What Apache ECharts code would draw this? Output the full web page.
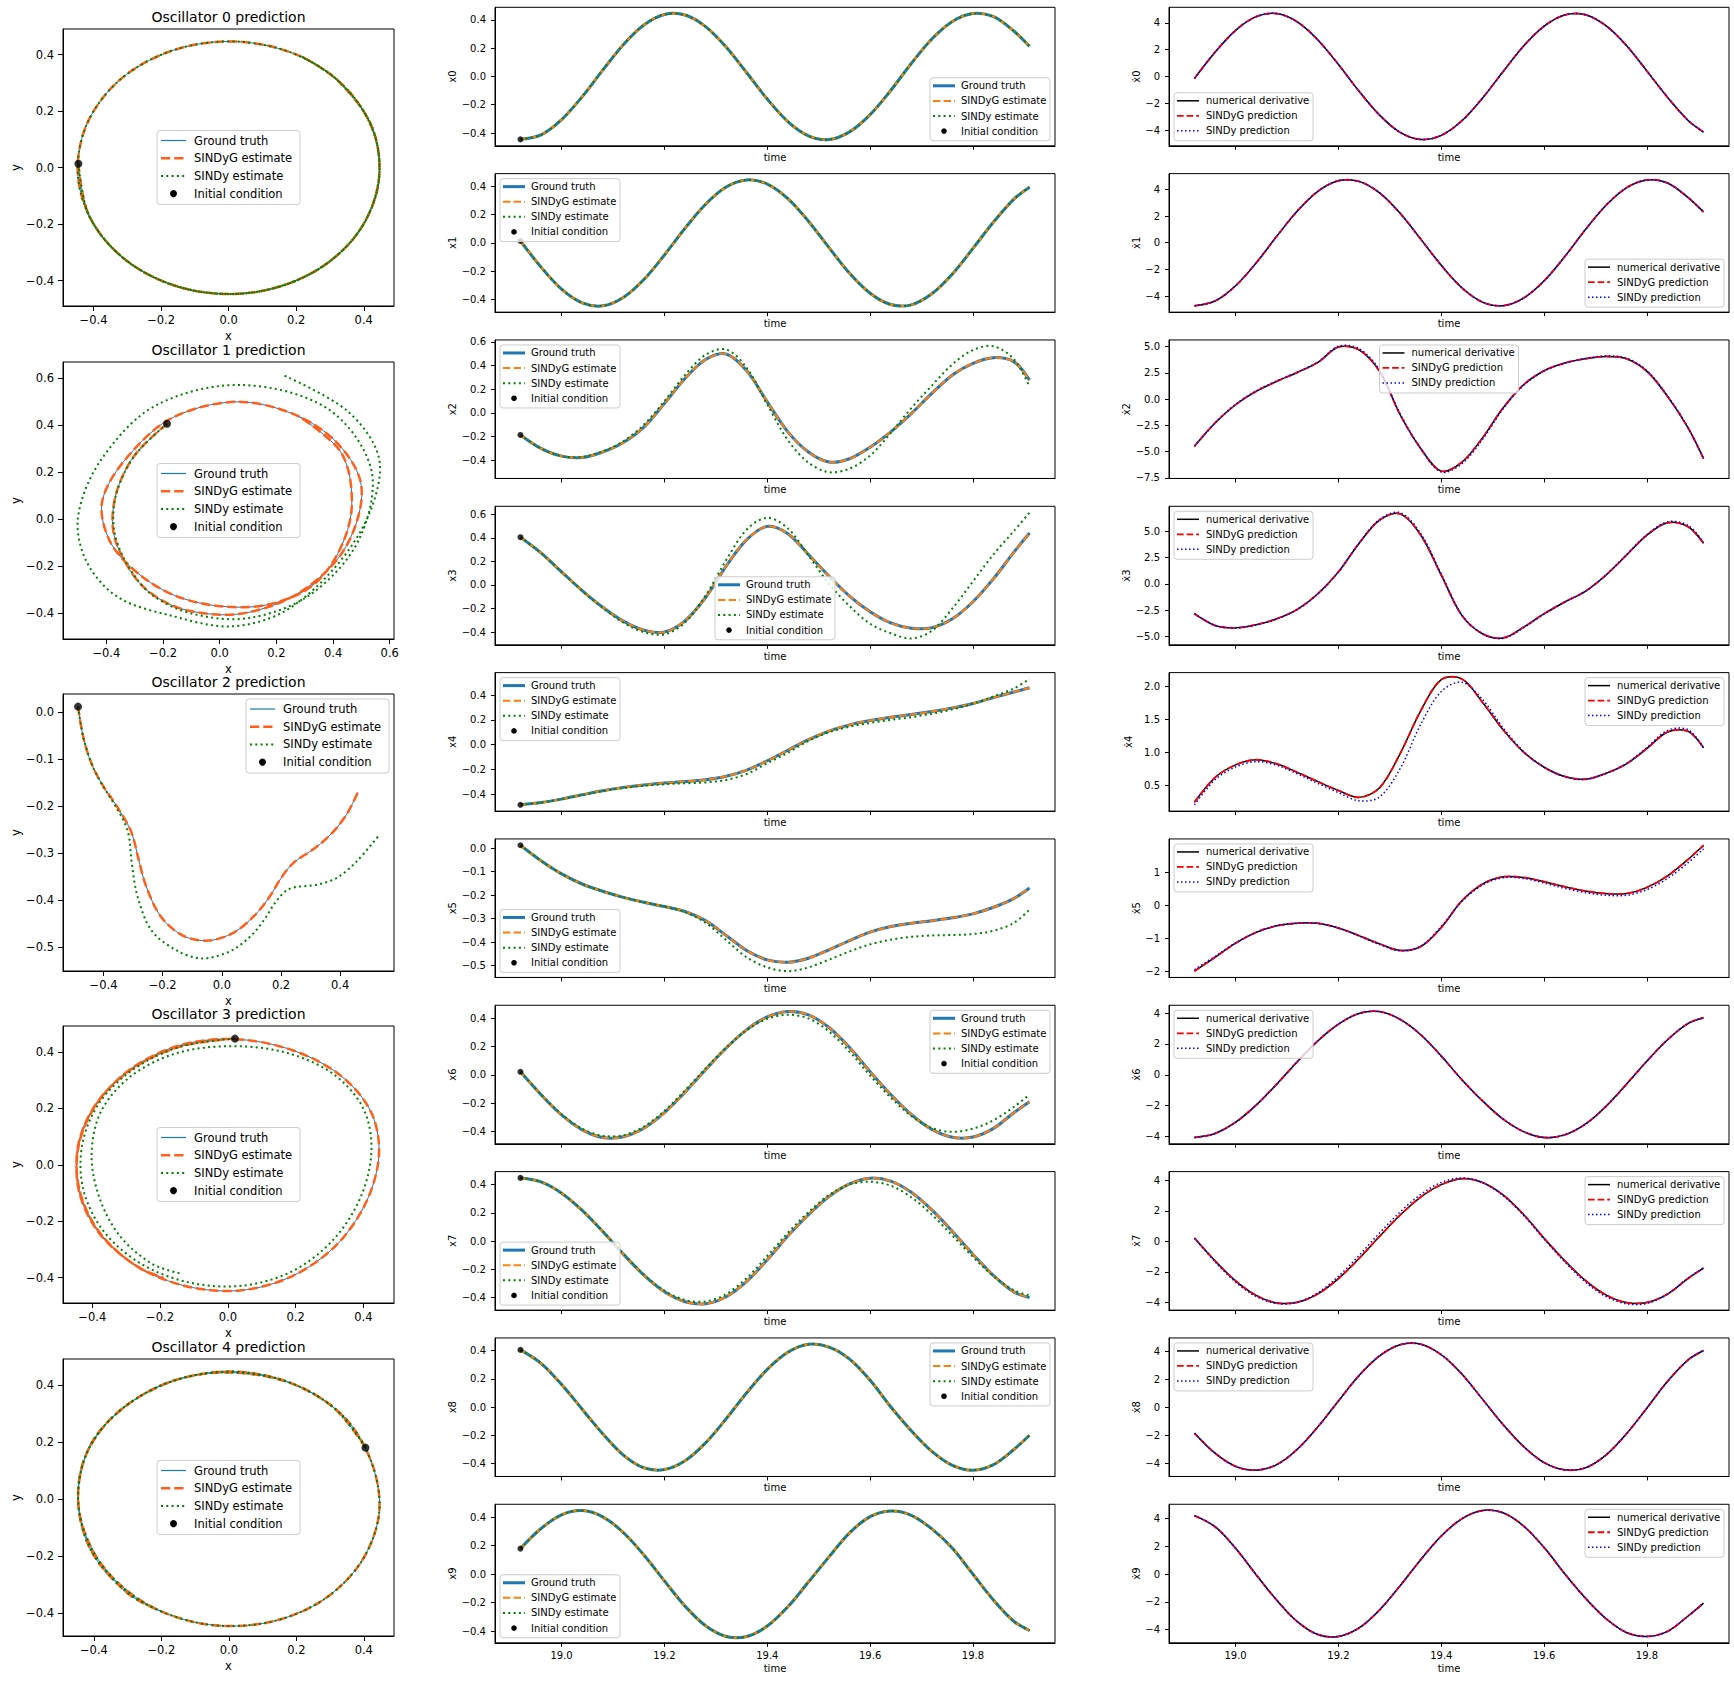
<!DOCTYPE html>
<html><head><meta charset="utf-8">
<script src="https://cdn.jsdelivr.net/npm/echarts@6/dist/echarts.min.js"></script>
<style>html,body{margin:0;padding:0;background:#fff;}#c{width:1734px;height:1681px;}</style>
</head><body><div id="c"></div>
<script>
// ---------- data ----------
const T = [18.92,18.96,19.00,19.04,19.08,19.12,19.16,19.20,19.24,19.28,19.32,19.36,19.40,19.44,19.48,19.52,19.56,19.60,19.64,19.68,19.72,19.76,19.80,19.84,19.88,19.91];

const x0 = [-0.445,-0.413,-0.305,-0.143,0.045,0.225,0.364,0.439,0.435,0.353,0.208,0.026,-0.160,-0.319,-0.420,-0.446,-0.392,-0.270,-0.099,0.092,0.265,0.389,0.445,0.423,0.320,0.213];
const x1 = [0.014,-0.171,-0.327,-0.424,-0.445,-0.386,-0.259,-0.085,0.104,0.274,0.396,0.446,0.417,0.314,0.154,-0.033,-0.215,-0.356,-0.436,-0.438,-0.360,-0.220,-0.038,0.148,0.312,0.395];
const x2 = [-0.186,-0.300,-0.365,-0.376,-0.330,-0.250,-0.120,0.080,0.290,0.450,0.497,0.355,0.093,-0.160,-0.330,-0.415,-0.387,-0.290,-0.160,-0.006,0.164,0.320,0.418,0.466,0.430,0.275];
const x2S = [-0.186,-0.300,-0.365,-0.372,-0.325,-0.240,-0.100,0.100,0.320,0.490,0.535,0.380,0.070,-0.230,-0.420,-0.500,-0.470,-0.360,-0.170,0.040,0.230,0.410,0.530,0.562,0.450,0.220];
const x3 = [0.405,0.272,0.111,-0.048,-0.190,-0.308,-0.385,-0.400,-0.305,-0.107,0.160,0.385,0.497,0.435,0.258,0.075,-0.095,-0.228,-0.323,-0.368,-0.364,-0.288,-0.143,0.053,0.280,0.440];
const x3S = [0.405,0.270,0.108,-0.050,-0.195,-0.320,-0.400,-0.420,-0.320,-0.090,0.210,0.470,0.570,0.480,0.250,0.010,-0.180,-0.330,-0.410,-0.455,-0.390,-0.200,0.030,0.260,0.460,0.614];
const x4 = [-0.486,-0.468,-0.440,-0.405,-0.372,-0.345,-0.325,-0.310,-0.298,-0.283,-0.255,-0.205,-0.130,-0.045,0.040,0.110,0.160,0.195,0.222,0.243,0.267,0.297,0.333,0.380,0.425,0.460];
const x4S = [-0.486,-0.468,-0.440,-0.406,-0.375,-0.350,-0.332,-0.320,-0.312,-0.305,-0.285,-0.237,-0.150,-0.065,0.030,0.100,0.145,0.175,0.200,0.222,0.250,0.285,0.330,0.390,0.455,0.531];
const x5 = [0.012,-0.054,-0.110,-0.153,-0.184,-0.210,-0.231,-0.249,-0.270,-0.309,-0.372,-0.436,-0.476,-0.486,-0.469,-0.433,-0.394,-0.358,-0.334,-0.320,-0.309,-0.297,-0.280,-0.252,-0.214,-0.170];
const x5S = [0.012,-0.054,-0.110,-0.153,-0.184,-0.210,-0.231,-0.249,-0.272,-0.318,-0.392,-0.465,-0.508,-0.524,-0.508,-0.475,-0.440,-0.410,-0.390,-0.378,-0.372,-0.370,-0.366,-0.352,-0.318,-0.262];
const x6 = [0.021,-0.140,-0.283,-0.388,-0.442,-0.437,-0.377,-0.267,-0.123,0.036,0.189,0.319,0.408,0.446,0.423,0.334,0.193,0.022,-0.139,-0.280,-0.385,-0.440,-0.439,-0.378,-0.266,-0.190];
const x6S = [0.021,-0.138,-0.278,-0.380,-0.430,-0.426,-0.365,-0.254,-0.110,0.045,0.192,0.314,0.395,0.424,0.398,0.306,0.163,-0.005,-0.160,-0.290,-0.375,-0.402,-0.380,-0.320,-0.225,-0.140];
const x7 = [0.447,0.419,0.339,0.217,0.067,-0.093,-0.242,-0.360,-0.430,-0.445,-0.395,-0.286,-0.133,0.035,0.186,0.315,0.405,0.445,0.424,0.345,0.220,0.068,-0.095,-0.245,-0.362,-0.400];
const x7S = [0.447,0.419,0.339,0.218,0.069,-0.090,-0.238,-0.352,-0.418,-0.428,-0.376,-0.262,-0.106,0.058,0.204,0.326,0.400,0.420,0.392,0.310,0.187,0.038,-0.113,-0.250,-0.350,-0.385];
const x8 = [0.405,0.310,0.160,-0.015,-0.190,-0.340,-0.430,-0.443,-0.381,-0.254,-0.083,0.101,0.267,0.388,0.445,0.425,0.340,0.190,0.002,-0.168,-0.314,-0.413,-0.447,-0.408,-0.299,-0.200];
const x9 = [0.180,0.321,0.417,0.447,0.403,0.293,0.135,-0.047,-0.224,-0.362,-0.437,-0.437,-0.364,-0.229,-0.055,0.122,0.290,0.404,0.444,0.414,0.318,0.183,0.000,-0.182,-0.332,-0.395];

const dx0 = [-0.15,1.81,3.45,4.47,4.70,4.08,2.73,0.90,-1.10,-2.89,-4.18,-4.71,-4.40,-3.31,-1.62,0.35,2.27,3.76,4.60,4.62,3.80,2.32,0.40,-1.56,-3.29,-4.15];
const dx1 = [-4.72,-4.36,-3.22,-1.51,0.48,2.37,3.85,4.64,4.59,3.73,2.20,0.27,-1.69,-3.37,-4.44,-4.71,-4.14,-2.85,-1.04,0.97,2.79,4.11,4.70,4.47,3.38,2.30];
const dx2 = [-4.49,-2.28,-0.54,0.73,1.68,2.53,3.48,4.95,4.68,2.63,-1.49,-4.70,-6.85,-6.00,-3.70,-0.85,1.36,2.69,3.42,3.83,4.05,3.83,2.63,0.25,-2.75,-5.67];
const dx2S = [-4.49,-2.28,-0.50,0.78,1.72,2.57,3.52,5.02,4.80,2.75,-1.40,-4.70,-6.95,-6.15,-3.85,-0.95,1.30,2.66,3.42,3.86,4.10,3.90,2.70,0.30,-2.72,-5.62];
const dx3 = [-2.84,-3.96,-4.18,-3.89,-3.32,-2.42,-0.93,1.15,3.86,6.09,6.68,4.66,0.83,-3.00,-4.75,-5.15,-4.12,-2.84,-1.72,-0.70,0.83,2.74,4.66,5.84,5.45,3.86];
const dx3S = [-2.84,-3.96,-4.20,-3.92,-3.35,-2.45,-0.95,1.15,3.88,6.15,6.80,4.80,0.95,-2.95,-4.75,-5.20,-4.18,-2.88,-1.74,-0.70,0.85,2.78,4.70,5.92,5.58,3.95];
const dx4 = [0.24,0.614,0.806,0.884,0.822,0.692,0.552,0.417,0.313,0.459,0.977,1.626,2.10,2.11,1.756,1.341,1.000,0.770,0.630,0.588,0.677,0.822,1.055,1.305,1.315,1.066];
const dx4S = [0.20,0.58,0.775,0.855,0.80,0.67,0.525,0.385,0.26,0.32,0.75,1.42,1.92,2.06,1.80,1.37,1.01,0.77,0.625,0.585,0.675,0.825,1.07,1.33,1.34,1.06];
const dx5 = [-2.00,-1.58,-1.15,-0.82,-0.62,-0.54,-0.545,-0.69,-0.92,-1.17,-1.37,-1.25,-0.67,0.14,0.65,0.87,0.85,0.72,0.57,0.44,0.36,0.36,0.55,0.90,1.40,1.83];
const dx5S = [-1.95,-1.55,-1.14,-0.82,-0.62,-0.54,-0.545,-0.69,-0.93,-1.19,-1.38,-1.24,-0.64,0.12,0.62,0.84,0.82,0.68,0.52,0.39,0.31,0.31,0.48,0.82,1.30,1.72];
const dx6 = [-4.07,-3.81,-3.08,-1.97,-0.61,0.85,2.20,3.28,3.98,4.10,3.59,2.60,1.21,-0.32,-1.69,-2.87,-3.69,-4.07,-3.90,-3.21,-2.06,-0.62,0.89,2.27,3.33,3.70];
const dx7 = [0.22,-1.27,-2.58,-3.53,-4.02,-3.98,-3.43,-2.43,-1.12,0.33,1.72,2.90,3.71,4.10,3.85,3.04,1.76,0.20,-1.26,-2.55,-3.50,-4.00,-3.99,-3.44,-2.42,-1.74];
const dx7S = [0.22,-1.33,-2.66,-3.60,-4.06,-3.98,-3.36,-2.28,-0.92,0.55,1.93,3.07,3.85,4.15,3.85,3.00,1.70,0.14,-1.34,-2.65,-3.60,-4.08,-4.05,-3.45,-2.40,-1.72];
const dx8 = [-1.85,-3.28,-4.22,-4.49,-4.10,-3.00,-1.40,0.45,2.26,3.67,4.47,4.50,3.75,2.37,0.58,-1.23,-2.80,-3.95,-4.47,-4.33,-3.42,-1.90,-0.05,1.85,3.38,4.05];
const dx9 = [4.20,3.40,1.85,-0.05,-1.88,-3.42,-4.35,-4.49,-3.88,-2.58,-0.84,1.03,2.73,3.97,4.56,4.40,3.45,1.90,0.02,-1.72,-3.20,-4.20,-4.49,-4.12,-3.02,-2.09];

// tick values
const timeTicks = [19.0,19.2,19.4,19.6,19.8];
const tk4 = [-0.4,-0.2,0,0.2,0.4];
const tk6 = [-0.4,-0.2,0,0.2,0.4,0.6];
const tk5n = [-0.5,-0.4,-0.3,-0.2,-0.1,0];
const d4 = [-4,-2,0,2,4];
const dTicks2 = [-7.5,-5,-2.5,0,2.5,5];
const dTicks3 = [-5,-2.5,0,2.5,5];
const dTicks4 = [0.5,1,1.5,2];
const dTicks5 = [-2,-1,0,1];

// text
const phaseTitles = ['Oscillator 0 prediction','Oscillator 1 prediction','Oscillator 2 prediction','Oscillator 3 prediction','Oscillator 4 prediction'];
const stateNames = ['x0','x1','x2','x3','x4','x5','x6','x7','x8','x9'];
const derivNames = stateNames.map(s => 'x\u0307' + s.slice(1));
const estLabels = ['Ground truth','SINDyG estimate','SINDy estimate','Initial condition'];
const derLabels = ['numerical derivative','SINDyG prediction','SINDy prediction'];

// ---------- layout / style ----------
const FONT = 'DejaVu Sans';
const X = [x0,x1,x2,x3,x4,x5,x6,x7,x8,x9];
const XS = [x0,x1,x2S,x3S,x4S,x5S,x6S,x7S,x8,x9];
const D = [dx0,dx1,dx2,dx3,dx4,dx5,dx6,dx7,dx8,dx9];
const DS = [dx0,dx1,dx2S,dx3S,dx4S,dx5S,dx6,dx7S,dx8,dx9];
const stateTicks = [tk4,tk4,tk6,tk6,tk4,tk5n,tk4,tk4,tk4,tk4];
const derivTicks = [d4,d4,dTicks2,dTicks3,dTicks4,dTicks5,d4,d4,d4,d4];
const derivDec = [0,0,1,1,1,0,0,0,0,0];
const phaseTicks = [[tk4,tk4],[tk6,tk6],[tk4,tk5n],[tk4,tk4],[tk4,tk4]];
const phaseLegendLoc = ['center','center','upper right','center','center'];
const stateLegendLoc = ['lower right','upper left','upper left','lower center','upper left','lower left','upper right','lower left','upper right','lower left'];
const derivLegendLoc = ['lower left','lower right','upper center','upper left','upper right','upper left','upper left','upper right','upper left','upper right'];

const C1 = {left:63, width:331, height:277, tops:[29,362,694,1026,1359]};
const C2 = {left:495, width:560};
const C3 = {left:1169, width:560};
const ROW0 = 7.3, ROWSTEP = 166.33, ROWH = 138.5;

const BLUE = '#1f77b4', ORANGE1 = '#ff5f1a', ORANGE2 = '#ff7f0e', GREEN = '#008000';

const grid = [], xAxis = [], yAxis = [], series = [], elements = [];

function fmt(d){ return v => { let a = Math.abs(v) < 1e-9 ? 0 : v; return (a < 0 ? '\u2212' : '') + Math.abs(a).toFixed(d); }; }
function padExt(arrs){
  let mn = Infinity, mx = -Infinity;
  arrs.forEach(a => a.forEach(v => { if (v < mn) mn = v; if (v > mx) mx = v; }));
  const r = mx - mn; return [mn - 0.05*r, mx + 0.05*r];
}

function axisCfg(idx, r, ticks, dec, showLabels, name, gap, fs, tl, margin, dim){
  return {
    type:'value', gridIndex:idx, min:r[0], max:r[1], position: dim === 'x' ? 'bottom' : 'left',
    axisLine:{show:true, onZero:false, lineStyle:{color:'#000', width:1}},
    axisTick:{show:true, inside:false, length:tl, customValues:ticks, lineStyle:{color:'#000', width:1}},
    axisLabel:{show:showLabels, customValues:ticks, formatter:fmt(dec), margin:margin, fontSize:fs, fontFamily:FONT, color:'#000', hideOverlap:false},
    splitLine:{show:false},
    name:name, nameLocation:'middle', nameGap:gap, nameRotate: dim === 'y' ? 90 : 0,
    nameTextStyle:{fontSize:fs, fontFamily:FONT, color:'#000'},
    silent:true
  };
}
function addPanel(p){
  const idx = grid.length;
  grid.push({left:p.x, top:p.y, width:p.w, height:p.h, show:true, borderColor:'#000', borderWidth:1, backgroundColor:'rgba(0,0,0,0)'});
  xAxis.push(axisCfg(idx, p.xr, p.xTicks, p.xDec, p.showX, p.xName, p.xGap, p.fs, p.tl, p.xMargin, 'x'));
  yAxis.push(axisCfg(idx, p.yr, p.yTicks, p.yDec, true, p.yName, p.yGap, p.fs, p.tl, p.yMargin, 'y'));
  return idx;
}
// a smooth curve through the data points, positioned by the axes' own scales (api.coord)
function curve(idx, xs, ys, color, width, dash, z){
  series.push({
    type:'custom', coordinateSystem:'cartesian2d', xAxisIndex:idx, yAxisIndex:idx,
    data:[[xs[0], ys[0]]], z:z, silent:true, animation:false, clip:false,
    renderItem:function(params, api){
      const pts = xs.map((x, i) => api.coord([x, ys[i]]));
      return {type:'polyline', shape:{points:pts, smooth:0.33},
        style:{fill:'none', stroke:color, lineWidth:width, lineDash:dash || null, lineCap:'butt', lineJoin:'round'}, silent:true};
    }
  });
}
function marker(idx, pt, size){
  series.push({type:'scatter', xAxisIndex:idx, yAxisIndex:idx, data:[pt], symbol:'circle', symbolSize:size,
    itemStyle:{color:'#000'}, z:10, silent:true, animation:false});
}
function legend(p, loc, L){
  const pad = 5; let bx, by;
  if (loc === 'center'){ bx = p.x + (p.w - L.bw)/2; by = p.y + (p.h - L.bh)/2; }
  else {
    by = loc.startsWith('upper') ? p.y + pad : p.y + p.h - L.bh - pad;
    if (loc.endsWith('left')) bx = p.x + pad;
    else if (loc.endsWith('right')) bx = p.x + p.w - L.bw - pad;
    else bx = p.x + (p.w - L.bw)/2;
  }
  elements.push({type:'rect', shape:{x:bx, y:by, width:L.bw, height:L.bh, r:3}, style:{fill:'rgba(255,255,255,0.8)', stroke:'#cccccc', lineWidth:1}, z:100, silent:true});
  L.items.forEach((it, i) => {
    const cy = by + L.rowTop + i*L.rowStep;
    if (it.kind === 'line') elements.push({type:'line', shape:{x1:bx+L.hx0, y1:cy, x2:bx+L.hx1, y2:cy}, style:{stroke:it.color, lineWidth:it.width, lineDash:it.dash || null, lineCap:'butt'}, z:101, silent:true});
    else elements.push({type:'circle', shape:{cx:bx+(L.hx0+L.hx1)/2, cy:cy, r:it.r}, style:{fill:'#000'}, z:101, silent:true});
    elements.push({type:'text', style:{text:it.label, x:bx+L.tx, y:cy, fill:'#000', fontSize:L.fs, fontFamily:FONT, align:'left', verticalAlign:'middle'}, z:101, silent:true});
  });
}

const xTimeRange = padExt([T]);

// ---------- column 1: phase plots ----------
for (let k = 0; k < 5; k++){
  const ax = X[2*k], ay = X[2*k+1], sx = XS[2*k], sy = XS[2*k+1];
  const p = {x:C1.left, y:C1.tops[k], w:C1.width, h:C1.height};
  const idx = addPanel(Object.assign({}, p, {
    xr:padExt([ax,sx]), yr:padExt([ay,sy]), xTicks:phaseTicks[k][0], yTicks:phaseTicks[k][1], xDec:1, yDec:1,
    showX:true, xName:'x', xGap:24, yName:'y', yGap:41, fs:11.5, tl:5, xMargin:8, yMargin:9}));
  curve(idx, ax, ay, BLUE, 1, null, 2);
  curve(idx, ax, ay, ORANGE1, 2.5, [9.25,4], 3);
  curve(idx, sx, sy, GREEN, 2, [2,3.3], 4);
  marker(idx, [ax[0], ay[0]], 8);
  elements.push({type:'text', style:{text:phaseTitles[k], x:p.x + p.w/2, y:p.y - 12.5, fill:'#000', fontSize:14, fontFamily:FONT, align:'center', verticalAlign:'middle'}, z:101, silent:true});
  legend(p, phaseLegendLoc[k], {bw:143, bh:74, rowTop:10, rowStep:17.7, hx0:4, hx1:29, tx:37, fs:11.5, items:[
    {label:estLabels[0], kind:'line', color:BLUE, width:1.2},
    {label:estLabels[1], kind:'line', color:ORANGE1, width:2.5, dash:[9.25,4]},
    {label:estLabels[2], kind:'line', color:GREEN, width:2, dash:[2,3.3]},
    {label:estLabels[3], kind:'dot', r:3.5}]});
}

// ---------- column 2: states over time ----------
for (let i = 0; i < 10; i++){
  const last = i === 9;
  const p = {x:C2.left, y:ROW0 + ROWSTEP*i, w:C2.width, h:ROWH};
  const idx = addPanel(Object.assign({}, p, {
    xr:xTimeRange, yr:padExt([X[i], XS[i]]), xTicks:timeTicks, yTicks:stateTicks[i], xDec:1, yDec:1,
    showX:last, xName:'time', xGap: last ? 21 : 6.5, yName:stateNames[i], yGap:36, fs:10, tl:4, xMargin:7.5, yMargin:9}));
  curve(idx, T, X[i], BLUE, 3, null, 2);
  curve(idx, T, X[i], ORANGE2, 2, [7.4,3.2], 3);
  curve(idx, T, XS[i], GREEN, 2, [2,3.3], 4);
  marker(idx, [T[0], X[i][0]], 6);
  legend(p, stateLegendLoc[i], {bw:120, bh:63, rowTop:8, rowStep:15.1, hx0:3, hx1:25, tx:31, fs:10, items:[
    {label:estLabels[0], kind:'line', color:BLUE, width:3},
    {label:estLabels[1], kind:'line', color:ORANGE2, width:2, dash:[7.4,3.2]},
    {label:estLabels[2], kind:'line', color:GREEN, width:2, dash:[2,3.3]},
    {label:estLabels[3], kind:'dot', r:2.8}]});
}

// ---------- column 3: derivatives over time ----------
for (let i = 0; i < 10; i++){
  const last = i === 9;
  const p = {x:C3.left, y:ROW0 + ROWSTEP*i, w:C3.width, h:ROWH};
  const idx = addPanel(Object.assign({}, p, {
    xr:xTimeRange, yr:padExt([D[i], DS[i]]), xTicks:timeTicks, yTicks:derivTicks[i], xDec:1, yDec:derivDec[i],
    showX:last, xName:'time', xGap: last ? 21 : 6.5, yName:derivNames[i], yGap: derivDec[i] ? 36 : 24, fs:10, tl:4, xMargin:7.5, yMargin:9}));
  curve(idx, T, D[i], '#000000', 1.5, null, 2);
  curve(idx, T, D[i], '#ff0000', 1.8, [6.7,2.9], 3);
  curve(idx, T, DS[i], '#0000ff', 1.5, [1.5,2.5], 4);
  legend(p, derivLegendLoc[i], {bw:139, bh:48, rowTop:8, rowStep:15, hx0:3, hx1:25, tx:32, fs:10, items:[
    {label:derLabels[0], kind:'line', color:'#000000', width:1.5},
    {label:derLabels[1], kind:'line', color:'#ff0000', width:1.8, dash:[6.7,2.9]},
    {label:derLabels[2], kind:'line', color:'#0000ff', width:1.5, dash:[1.5,2.5]}]});
}

const chart = echarts.init(document.getElementById('c'), null, {renderer:'svg', width:1734, height:1681});
chart.setOption({
  animation:false, backgroundColor:'#ffffff',
  grid:grid, xAxis:xAxis, yAxis:yAxis, series:series,
  graphic:{elements:elements}
});
</script></body></html>
